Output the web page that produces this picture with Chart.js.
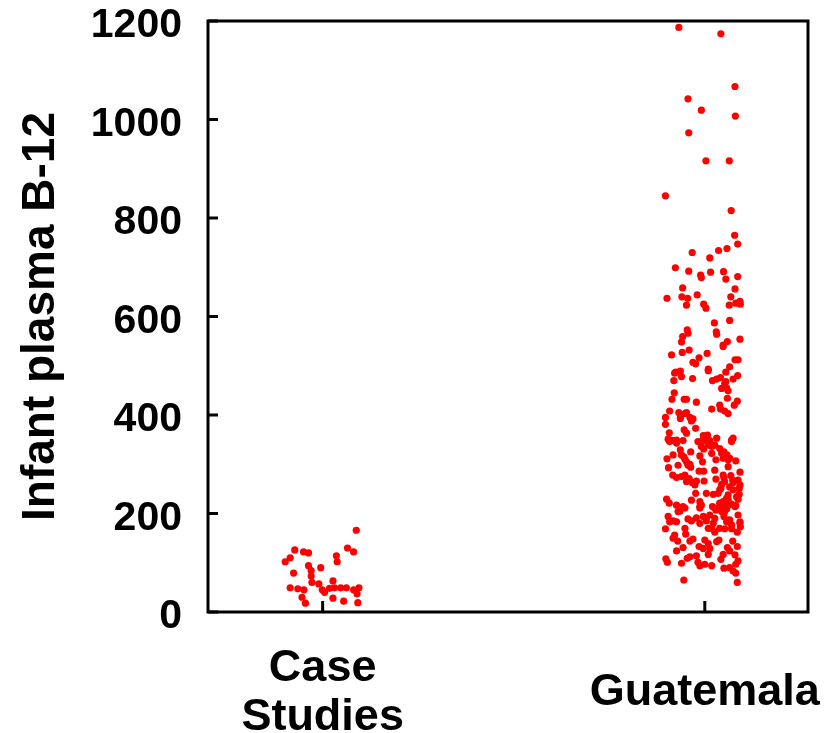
<!DOCTYPE html>
<html>
<head>
<meta charset="utf-8">
<script src="https://cdn.jsdelivr.net/npm/chart.js@4.4.0/dist/chart.umd.min.js"></script>
<style>
  html, body { margin: 0; padding: 0; background: #fff; }
  #wrap { width: 833px; height: 733px; }
</style>
</head>
<body>
<div id="wrap"><canvas id="chart" width="833" height="733"></canvas></div>
<script>
// categories and where they sit on the x scale
const categories = [["Case", "Studies"], "Guatemala"];
const categoryPos = [1, 2];
const yTicks = [0, 200, 400, 600, 800, 1000, 1200];

// Case Studies: jittered x position, plasma B-12
const caseX = [1.088, 0.927, 0.950, 0.963, 1.065, 1.081, 0.915, 0.902, 1.036, 1.038,
    0.963, 0.995, 0.970, 0.924, 0.970, 0.972, 0.990, 1.027, 0.915, 0.935,
    0.951, 0.999, 1.005, 1.018, 1.031, 1.047, 1.062, 1.081, 1.095, 1.090,
    0.946, 1.027, 1.055, 0.955, 1.092];
const caseY = [166, 126, 122, 120, 130, 122, 110, 102, 114, 102,
    94, 90, 84, 79, 73, 60, 57, 63, 49, 47,
    45, 45, 40, 48, 49, 49, 49, 45, 49, 37,
    30, 28, 22, 18, 19];

// Guatemala: jittered x position, plasma B-12
const guatX = [1.932, 2.042, 2.079, 1.956, 1.991, 2.080, 1.958, 2.003, 2.064, 1.897,
    2.069, 2.078, 2.086, 1.967, 2.036, 2.058, 2.013, 1.923, 1.958, 1.989,
    1.991, 2.015, 2.049, 2.055, 2.086, 1.942, 2.079, 1.901, 1.940, 1.955,
    1.980, 2.068, 1.952, 1.997, 2.003, 2.064, 2.081, 2.092, 2.093, 2.025,
    2.065, 1.954, 1.956, 1.942, 2.030, 2.031, 1.939, 2.059, 2.092, 2.048,
    1.913, 1.941, 1.959, 2.006, 2.048, 1.985, 1.969, 1.976, 2.009, 2.079,
    2.087, 2.065, 2.055, 1.924, 1.936, 1.939, 1.919, 1.968, 2.020, 2.031,
    2.041, 2.055, 2.074, 2.086, 2.044, 2.057, 2.061, 1.920, 1.914, 1.946,
    1.952, 1.978, 2.059, 2.085, 2.077, 2.039, 2.018, 2.041, 2.052, 2.061,
    1.908, 1.897, 1.932, 1.937, 1.948, 1.936, 1.961, 1.969, 1.965, 1.897,
    1.976, 1.946, 1.952, 1.907, 1.910, 1.926, 1.943, 1.996, 2.007, 2.031,
    2.006, 2.070, 2.074,
    1.936, 1.963, 1.997, 2.018, 2.039, 2.050, 2.058, 2.065, 1.917, 1.901,
    1.945, 1.952, 1.961, 1.987, 1.994, 2.018, 2.029, 2.081, 1.905, 2.061,
    1.985, 1.997, 1.916, 1.926, 1.939, 1.948, 1.959, 1.967, 1.978, 1.998,
    2.029, 2.050, 2.068, 2.073, 2.087, 2.044, 2.042, 2.090, 2.065, 1.976,
    2.004, 2.022, 2.035, 2.061, 2.090, 2.087, 1.900, 1.907, 1.926, 1.943,
    1.965, 1.987, 1.991, 2.020, 2.039, 2.050, 2.061, 2.070, 2.081, 1.935,
    1.987, 2.029, 2.044, 2.057, 1.904, 1.917, 1.956, 1.965, 1.978, 1.996,
    2.004, 2.013, 2.026, 2.050, 2.065, 2.087, 2.092, 1.987,
    1.897, 1.921, 1.917, 1.929, 1.948, 1.950, 1.961, 1.969, 2.018, 2.026,
    2.039, 2.052, 2.070, 2.085, 2.093, 2.000, 2.009, 1.985, 1.996, 2.013,
    2.031, 2.037, 2.073, 2.085, 2.059, 2.065, 1.926, 1.943, 2.009, 1.978,
    1.961, 1.954, 2.048, 2.042, 2.079, 2.087, 1.898, 1.902, 1.939, 1.982,
    1.987, 2.000, 2.018, 2.050, 2.065, 2.081, 2.074, 2.081, 1.945, 2.085,
    1.930, 1.948, 1.908, 1.926, 1.952, 1.974, 1.987, 1.948, 1.930, 1.956,
    1.963, 1.939, 1.991, 1.908, 1.926, 1.982, 2.009, 2.026, 2.070, 2.044,
    2.048, 2.061, 2.026, 2.092, 2.048, 2.052, 2.092, 2.074, 2.039, 2.074,
    2.083, 2.057, 2.048, 2.026, 2.044, 2.061, 2.079, 2.052, 2.004, 2.022,
    2.057, 2.070, 2.092, 2.009, 1.921, 1.952, 1.904, 1.917, 1.991, 2.009,
    2.052, 2.004, 2.013];
const guatY = [1187, 1174, 1067, 1042, 1019, 1007, 973, 916, 916, 845,
    815, 765, 747, 730, 734, 738, 719, 699, 692, 684,
    679, 690, 691, 676, 681, 658, 656, 637, 640, 637,
    644, 640, 623, 625, 617, 623, 627, 631, 625, 587,
    592, 573, 566, 559, 569, 564, 548, 549, 554, 542,
    522, 527, 532, 525, 539, 516, 507, 504, 493, 512,
    512, 498, 487, 487, 489, 478, 470, 474, 470, 473,
    476, 468, 473, 480, 454, 455, 449, 445, 432, 432,
    432, 426, 434, 428, 420, 420, 412, 412, 408, 403,
    408, 395, 405, 398, 403, 393, 395, 392, 388, 381,
    373, 370, 363, 364, 349, 349, 348, 358, 359, 353,
    346, 349, 353,
    329, 325, 331, 336, 332, 325, 319, 312, 319, 311,
    315, 305, 300, 317, 305, 322, 309, 307, 293, 295,
    286, 286, 278, 273, 275, 278, 271, 263, 266, 266,
    270, 273, 277, 268, 268, 259, 251, 251, 254, 241,
    241, 239, 241, 238, 239, 229, 229, 221, 217, 214,
    227, 224, 217, 214, 221, 216, 229, 219, 216, 205,
    211, 207, 204, 209, 194, 185, 189, 185, 191, 194,
    185, 197, 190, 194, 187, 197, 183, 180,
    169, 156, 150, 144, 170, 158, 144, 148, 170, 162,
    170, 169, 169, 162, 173, 146, 139, 133, 129, 129,
    143, 146, 144, 133, 131, 124, 124, 131, 117, 114,
    112, 109, 117, 107, 116, 104, 108, 101, 99, 101,
    94, 97, 94, 89, 90, 97, 83, 79, 65, 60,
    204, 211, 183, 183, 265, 258, 214, 310, 298, 298,
    294, 319, 336, 346, 343, 346, 339, 339, 346, 322,
    312, 309, 288, 284, 278, 265, 258, 263, 248, 248,
    234, 231, 224, 211, 214, 217, 214, 204, 190, 180,
    183, 177, 180, 170, 485, 405, 351, 348, 346, 490,
    464, 353, 348];

function toPoints(xs, ys) {
    return xs.map(function (x, i) { return { x: x, y: ys[i] }; });
}

// frame round the plot and short inward tick marks
const framePlugin = {
    id: 'frame',
    afterDraw: function (chart) {
        const ctx = chart.ctx;
        const a = chart.chartArea;
        const xs = chart.scales.x;
        const ys = chart.scales.y;
        ctx.save();
        ctx.strokeStyle = '#000';
        ctx.lineWidth = 3;
        ctx.strokeRect(a.left, a.top, a.right - a.left, a.bottom - a.top);
        ctx.beginPath();
        yTicks.forEach(function (v) {
            const py = ys.getPixelForValue(v);
            ctx.moveTo(a.left, py);
            ctx.lineTo(a.left + 10, py);
        });
        categoryPos.forEach(function (v) {
            const px = xs.getPixelForValue(v);
            ctx.moveTo(px, a.bottom);
            ctx.lineTo(px, a.bottom - 11);
        });
        ctx.stroke();
        ctx.restore();
    }
};

const makeChart = new Chart(document.getElementById('chart'), {
    type: 'scatter',
    data: {
        datasets: [
            {
                label: 'Case Studies',
                data: toPoints(caseX, caseY),
                backgroundColor: '#ff0000',
                borderWidth: 0,
                pointRadius: 3.6
            }, {
                label: 'Guatemala',
                data: toPoints(guatX, guatY),
                backgroundColor: '#ff0000',
                borderWidth: 0,
                pointRadius: 3.6
            }
        ]
    },
    options: {
        responsive: false,
        animation: false,
        layout: { padding: { top: 21, right: 25, left: 0, bottom: 0 } },
        plugins: {
            legend: { display: false },
            tooltip: { enabled: false }
        },
        scales: {
            x: {
                type: 'linear',
                min: 0.7,
                max: 2.27,
                grid: { display: false },
                border: { display: false },
                afterBuildTicks: function (scale) {
                    scale.ticks = categoryPos.map(function (v) { return { value: v }; });
                },
                afterFit: function (scale) {
                    scale.height = 121;
                    scale.paddingLeft = 0;
                    scale.paddingRight = 0;
                },
                ticks: {
                    autoSkip: false,
                    maxRotation: 0,
                    padding: 49,
                    crossAlign: 'center',
                    color: '#000',
                    font: { family: 'Liberation Sans, Arial, sans-serif', size: 45, weight: 'bold', lineHeight: 1.07 },
                    callback: function (value) {
                        const i = categoryPos.indexOf(value);
                        return i >= 0 ? categories[i] : '';
                    }
                }
            },
            y: {
                min: 0,
                max: 1200,
                grid: { display: false },
                border: { display: false },
                afterBuildTicks: function (scale) {
                    scale.ticks = yTicks.map(function (v) { return { value: v }; });
                },
                afterFit: function (scale) {
                    scale.width = 208;
                    scale.paddingTop = 0;
                    scale.paddingBottom = 0;
                },
                title: {
                    display: true,
                    text: 'Infant plasma B-12',
                    color: '#000',
                    padding: { top: 14, bottom: 0 },
                    font: { family: 'Liberation Sans, Arial, sans-serif', size: 46, weight: 'bold' }
                },
                ticks: {
                    padding: 18,
                    labelOffset: 5,
                    color: '#000',
                    font: { family: 'Liberation Sans, Arial, sans-serif', size: 41, weight: 'bold' },
                    callback: function (value) { return String(value); }
                }
            }
        }
    },
    plugins: [framePlugin]
});
</script>
</body>
</html>
